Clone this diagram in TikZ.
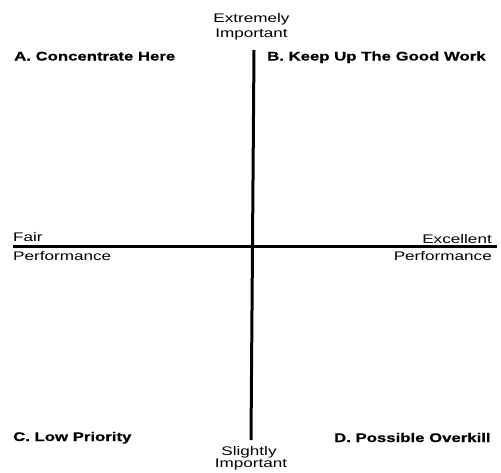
\documentclass[tikz,border=0pt]{standalone}
\usepackage{fontspec}
\setmainfont{Liberation Sans}
% wide Helvetica-like faces for the labels
\newfontfamily\widefont[FakeStretch=1.37]{Liberation Sans}
\newfontfamily\heavyfont[FakeStretch=1.34,FakeBold=0.6]{Liberation Sans Bold}
\begin{document}
\begin{tikzpicture}[x=1pt,y=-1pt,
  axis/.style={line width=3pt, black},
  lbl/.style={inner sep=0pt, font=\widefont\fontsize{12.5}{12}\selectfont},
  quad/.style={inner sep=0pt, font=\heavyfont\fontsize{12.5}{12}\selectfont}]
\useasboundingbox (0,0) rectangle (501,472);
% axis end points
\coordinate (top) at (254,50);
\coordinate (bot) at (251,440);
\coordinate (left) at (13,246.5);
\coordinate (right) at (497,246.5);
\draw[axis] (top) -- (bot);
\draw[axis] (left) -- (right);
% axis labels
\node[lbl, anchor=base] (ext1) at (251.5,22) {Extremely};
\node[lbl, anchor=base] (ext2) at (251.5,37) {Important};
\node[lbl, anchor=base] (sli1) at (249,455) {Slightly};
\node[lbl, anchor=base] (sli2) at (251,467) {Important};
\node[lbl, anchor=base west] (fair) at (13,241) {Fair};
\node[lbl, anchor=base west] (perfl) at (13,260) {Performance};
\node[lbl, anchor=base east] (exc) at (492,243) {Excellent};
\node[lbl, anchor=base east] (perfr) at (492,260) {Performance};
% quadrant titles
\node[quad, anchor=base west] (qa) at (14,60.5) {A. Concentrate Here};
\node[quad, anchor=base west] (qb) at (267,60.5) {B. Keep Up The Good Work};
\node[quad, anchor=base west] (qc) at (13,441) {C. Low Priority};
\node[quad, anchor=base west] (qd) at (334,442) {D. Possible Overkill};
\end{tikzpicture}
\end{document}
